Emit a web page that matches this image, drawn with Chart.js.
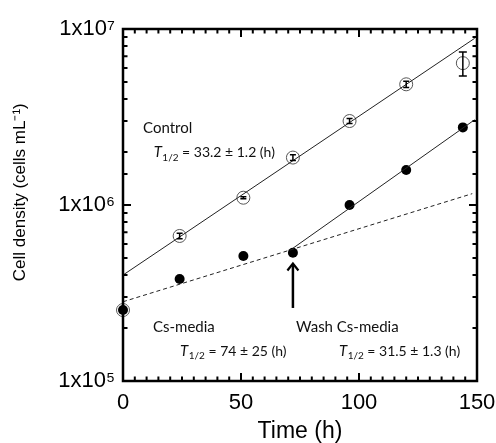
<!DOCTYPE html>
<html><head><meta charset="utf-8">
<script src="https://cdn.jsdelivr.net/npm/chart.js@4/dist/chart.umd.min.js"></script>
<style>html,body{margin:0;padding:0;background:#fff}#wrap{width:496px;height:443px;position:relative}</style>
</head><body><div id="wrap"><canvas id="c"></canvas></div>
<script>
// ---- data ----
const timesControl = [0, 24, 51, 72, 96, 120, 144];
const control      = [2.53e5, 6.67e5, 1.10e6, 1.86e6, 3.0e6, 4.85e6, 6.4e6];
const controlErr   = [0, 2.5e4, 1.5e4, 7e4, 1e5, 2e5, 1.0e6];
const timesCs      = [0, 24, 51, 72, 96, 120, 144];
const csMedia      = [2.53e5, 3.8e5, 5.13e5, 5.36e5, 1.0e6, 1.58e6, 2.76e6];
const controlFitT  = [0, 149];
const controlFit   = [4.0e5, 8.85e6];
const washFitT     = [72, 149];
const washFit      = [5.68e5, 3.05e6];
const csFitT       = [0, 148];
const csFit        = [2.82e5, 1.16e6];
const xTickLabels  = [0, 50, 100, 150];
const yTickLabels  = {100000: '1x10\u2075', 1000000: '1x10\u2076', 10000000: '1x10\u2077'};
const arrowT = 72, arrowFrom = 2.6e5, arrowTo = 4.65e5;

const pts = (xs, ys) => xs.map((x, i) => ({x: x, y: ys[i]}));

const annFont = "Lato, 'Open Sans', sans-serif";
const annotations = [
  {t: 8.5,  v: 2.55e6, parts: [['Control']]},
  {t: 13.0, v: 1.87e6, parts: [['T','i'], ['1/2','s'], [' = 33.2 \u00b1 1.2 (h)']]},
  {t: 12.7, v: 1.9e5,  parts: [['Cs-media']]},
  {t: 24.2, v: 1.39e5, parts: [['T','i'], ['1/2','s'], [' = 74 \u00b1 25 (h)']]},
  {t: 73.3, v: 1.9e5,  parts: [['Wash Cs-media']]},
  {t: 91.5, v: 1.39e5, parts: [['T','i'], ['1/2','s'], [' = 31.5 \u00b1 1.3 (h)']]}
];

const decor = {
  id: 'decor',
  afterDatasetsDraw(chart) {
    const ctx = chart.ctx, xs = chart.scales.x, ys = chart.scales.y;
    ctx.save();
    ctx.strokeStyle = '#000'; ctx.lineWidth = 1.5;
    timesControl.forEach((t, i) => {
      const e = controlErr[i]; if (!e) return;
      const x = xs.getPixelForValue(t);
      const y1 = ys.getPixelForValue(control[i] + e), y2 = ys.getPixelForValue(control[i] - e);
      const cw = (y2 - y1) > 12 ? 4 : 3;
      ctx.beginPath();
      ctx.moveTo(x, y1); ctx.lineTo(x, y2);
      ctx.moveTo(x - cw, y1); ctx.lineTo(x + cw, y1);
      ctx.moveTo(x - cw, y2); ctx.lineTo(x + cw, y2);
      ctx.stroke();
    });
    const ax = xs.getPixelForValue(arrowT), ay1 = ys.getPixelForValue(arrowFrom), ay2 = ys.getPixelForValue(arrowTo);
    ctx.lineWidth = 2.5; ctx.lineCap = 'butt';
    ctx.beginPath(); ctx.moveTo(ax, ay1); ctx.lineTo(ax, ay2 + 1); ctx.stroke();
    ctx.lineWidth = 2.2;
    ctx.beginPath(); ctx.moveTo(ax - 5.5, ay2 + 7); ctx.lineTo(ax, ay2); ctx.lineTo(ax + 5.5, ay2 + 7); ctx.stroke();
    ctx.restore();
  },
  afterDraw(chart) {
    const ctx = chart.ctx, xs = chart.scales.x, ys = chart.scales.y, a = chart.chartArea;
    ctx.save();
    ctx.strokeStyle = '#000'; ctx.lineWidth = 2.5;
    ctx.strokeRect(a.left, a.top, a.right - a.left, a.bottom - a.top);
    ctx.lineWidth = 2;
    ctx.beginPath();
    xs.ticks.forEach(tk => {
      const x = xs.getPixelForValue(tk.value);
      const len = (tk.value % 50 === 0) ? 8 : 4.5;
      ctx.moveTo(x, a.bottom); ctx.lineTo(x, a.bottom - len);
      ctx.moveTo(x, a.top); ctx.lineTo(x, a.top + len);
    });
    ys.ticks.forEach(tk => {
      const y = ys.getPixelForValue(tk.value);
      const m = Math.log10(tk.value);
      const len = Math.abs(m - Math.round(m)) < 1e-9 ? 8 : 4.5;
      ctx.moveTo(a.left, y); ctx.lineTo(a.left + len, y);
      ctx.moveTo(a.right, y); ctx.lineTo(a.right - len, y);
    });
    ctx.stroke();
    ctx.fillStyle = '#111';
    ctx.textBaseline = 'alphabetic'; ctx.textAlign = 'left';
    annotations.forEach(an => {
      let x = xs.getPixelForValue(an.t);
      const y = ys.getPixelForValue(an.v);
      an.parts.forEach(p => {
        const style = p[1];
        let dy = 0;
        if (style === 'i') ctx.font = 'italic 15px ' + annFont;
        else if (style === 's') { ctx.font = '10px ' + annFont; dy = 3.5; }
        else ctx.font = (an.parts.length > 1 ? '14px ' : '15px ') + annFont;
        ctx.fillText(p[0], x, y + dy);
        x += ctx.measureText(p[0]).width + (style === 'i' ? 0.5 : 0);
      });
    });
    ctx.restore();
  }
};

const tickFont = {family: "'Liberation Sans', Arial, sans-serif", size: 22};

new Chart(document.getElementById('c'), {
  type: 'scatter',
  data: {
    datasets: [
      {label: 'Control fit', type: 'line', data: pts(controlFitT, controlFit), borderColor: '#222', borderWidth: 1, pointRadius: 0, fill: false},
      {label: 'Wash fit', type: 'line', data: pts(washFitT, washFit), borderColor: '#222', borderWidth: 1, pointRadius: 0, fill: false},
      {label: 'Cs-media fit', type: 'line', data: pts(csFitT, csFit), borderColor: '#222', borderWidth: 1, borderDash: [4, 3], pointRadius: 0, fill: false},
      {label: 'Control', data: pts(timesControl, control), pointRadius: 6.5, pointBackgroundColor: 'rgba(0,0,0,0)', pointBorderColor: '#555', pointBorderWidth: 1, clip: false},
      {label: 'Cs-media', data: pts(timesCs, csMedia), pointRadius: 5, pointBackgroundColor: '#000', pointBorderColor: '#000', pointBorderWidth: 0, clip: false}
    ]
  },
  options: {
    responsive: true, maintainAspectRatio: false, animation: false,
    layout: {padding: {top: 29, right: 19, left: 0, bottom: 0}},
    plugins: {legend: {display: false}, tooltip: {enabled: false}},
    scales: {
      x: {
        type: 'linear', min: 0, max: 150,
        grid: {display: false, drawTicks: false}, border: {display: false},
        ticks: {stepSize: 5, autoSkip: false, maxRotation: 0, padding: 9, color: '#000', font: tickFont,
          callback: v => xTickLabels.includes(v) ? String(v) : ''},
        title: {display: true, text: 'Time (h)', color: '#000', font: {family: "'Liberation Sans', Arial, sans-serif", size: 23, lineHeight: 1}, padding: {top: 0, bottom: 0}},
        afterFit: s => { s.height = 62; s.paddingRight = 18; }
      },
      y: {
        type: 'logarithmic', min: 1e5, max: 1e7,
        grid: {display: false, drawTicks: false}, border: {display: false},
        ticks: {autoSkip: false, padding: 8, color: '#000', font: tickFont,
          callback: v => yTickLabels[Math.round(v)] || ''},
        title: {display: true, text: '\u2002\u2002\u2002Cell density (cells mL\u207b\u00b9)', color: '#000', font: {family: "'Liberation Sans', Arial, sans-serif", size: 17, lineHeight: 1.2}, padding: {top: 10, bottom: 0}},
        afterFit: s => { s.width = 123; }
      }
    }
  },
  plugins: [decor]
});
</script></body></html>
